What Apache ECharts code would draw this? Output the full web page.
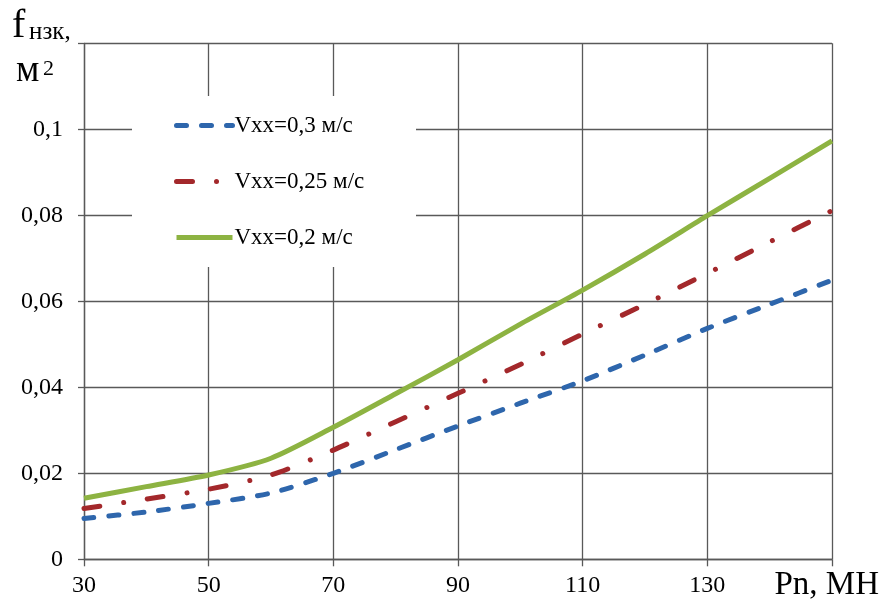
<!DOCTYPE html>
<html><head><meta charset="utf-8">
<script src="https://cdn.jsdelivr.net/npm/echarts@6/dist/echarts.min.js"></script>
<style>html,body{margin:0;padding:0;background:#fff;}#c{width:883px;height:603px;}</style>
</head><body><div id="c"></div>
<script>
const xValues = [30, 40, 50, 60, 70, 80, 90, 100, 110, 120, 130, 140, 150];
const v03 = [0.0095, 0.0110, 0.0130, 0.0154, 0.0200, 0.0255, 0.0310, 0.0363, 0.0415, 0.0475, 0.0537, 0.0593, 0.0649];
const v025 = [0.0118, 0.0140, 0.0163, 0.0196, 0.0254, 0.0320, 0.0386, 0.0453, 0.0524, 0.0593, 0.0665, 0.0738, 0.0811];
const v02 = [0.0142, 0.0169, 0.0196, 0.0235, 0.0307, 0.0385, 0.0464, 0.0547, 0.0626, 0.0710, 0.0799, 0.0886, 0.0973];
const seriesNames = ['Vxx=0,3 м/с', 'Vxx=0,25 м/с', 'Vxx=0,2 м/с'];
const xTickLabels = ['30', '50', '70', '90', '110', '130', ''];
const yTitle = ['f', 'нзк,', 'м', '2'];
const xTitle = 'Pn, МН';

const serif = 'Liberation Serif';
const gridColor = '#595959';
const pair = a => xValues.map((x, i) => [x, a[i]]);

const chart = echarts.init(document.getElementById('c'));
chart.setOption({
  animation: false,
  backgroundColor: '#fff',
  grid: { left: 84, right: 51, top: 43.3, bottom: 43.7 },
  xAxis: {
    type: 'value', min: 30, max: 150, interval: 20,
    axisLine: { show: true, lineStyle: { color: gridColor, width: 1.3 } },
    axisTick: { show: true, length: 7, lineStyle: { color: gridColor, width: 1.3 } },
    splitLine: { show: true, lineStyle: { color: gridColor, width: 1.3 } },
    axisLabel: {
      margin: 14, color: '#000', fontFamily: serif, fontSize: 24,
      formatter: v => xTickLabels[Math.round((v - 30) / 20)]
    }
  },
  yAxis: {
    type: 'value', min: 0, max: 0.12, interval: 0.02,
    axisLine: { show: true, lineStyle: { color: gridColor, width: 1.3 } },
    axisTick: { show: true, length: 6, lineStyle: { color: gridColor, width: 1.3 } },
    splitLine: { show: true, lineStyle: { color: gridColor, width: 1.3 } },
    axisLabel: {
      margin: 21, color: '#000', fontFamily: serif, fontSize: 24,
      formatter: v => Math.abs(v - 0.12) < 1e-9 ? '' : String(+v.toFixed(2)).replace('.', ',')
    }
  },
  legend: {
    orient: 'vertical', left: 174, top: 114, padding: 0,
    itemWidth: 56, itemHeight: 14, itemGap: 33, itemGap: 33,
    itemStyle: { opacity: 0 },
    lineStyle: { width: 5 },
    textStyle: { fontFamily: serif, fontSize: 23, color: '#000', lineHeight: 22, padding: [0, 0, 0, -3] },
    data: seriesNames
  },
  graphic: [
    { type: 'rect', z: 3, shape: { x: 132, y: 96, width: 284, height: 171 }, style: { fill: '#fff' } },
    { type: 'text', z: 5, style: { x: 12, y: 26, text: yTitle[0], font: '40px Liberation Serif', fill: '#000', textVerticalAlign: 'middle' } },
    { type: 'text', z: 5, style: { x: 29, y: 32, text: yTitle[1], font: '25px Liberation Serif', fill: '#000', textVerticalAlign: 'middle' } },
    { type: 'text', z: 5, style: { x: 16, y: 71, text: yTitle[2], font: '37px Liberation Serif', fill: '#000', textVerticalAlign: 'middle' } },
    { type: 'text', z: 5, style: { x: 43, y: 69, text: yTitle[3], font: '22px Liberation Serif', fill: '#000', textVerticalAlign: 'middle' } },
    { type: 'text', z: 5, style: { x: 879, y: 585, text: xTitle, font: '33px Liberation Serif', fill: '#000', textAlign: 'right', textVerticalAlign: 'middle' } }
  ],
  series: [
    { name: seriesNames[0], type: 'line', data: pair(v03), smooth: 0.25, symbol: 'none', z: 3,
      lineStyle: { color: '#2e66ac', width: 5, type: [10, 15], cap: 'round' }, itemStyle: { color: '#2e66ac' } },
    { name: seriesNames[1], type: 'line', data: pair(v025), smooth: 0.25, symbol: 'none', z: 3,
      lineStyle: { color: '#a3282b', width: 5, type: [16, 24, 0.01, 24], cap: 'round' }, itemStyle: { color: '#a3282b' } },
    { name: seriesNames[2], type: 'line', data: pair(v02), smooth: 0.25, symbol: 'none', z: 3,
      lineStyle: { color: '#8db342', width: 5 }, itemStyle: { color: '#8db342' } }
  ]
});
</script></body></html>
